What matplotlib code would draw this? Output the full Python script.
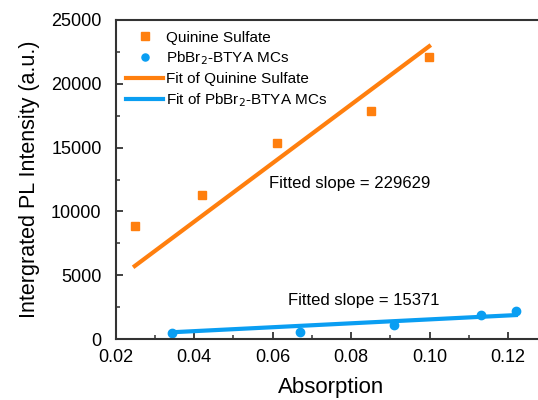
import numpy as np
import matplotlib
matplotlib.use("Agg")
import matplotlib.pyplot as plt
from matplotlib.ticker import MultipleLocator

plt.rcParams['font.family'] = ['Liberation Sans', 'DejaVu Sans']

# Data
qs_x = [0.0249, 0.0420, 0.0611, 0.0850, 0.0999]
qs_y = [8856, 11262, 15384, 17868, 22124]
pb_x = [0.0344, 0.0670, 0.0909, 0.1130, 0.1220]
pb_y = [447, 572, 1074, 1881, 2218]
qs_slope = 229629
pb_slope = 15371

orange = '#FF7F0E'
blue = '#0A9EF2'

fig = plt.figure(figsize=(5.38, 4.0), dpi=100)
ax = fig.add_axes([0.2147, 0.1525, 0.8026, 0.7975])

ax.plot(qs_x, qs_y, 's', color=orange, markersize=6, linestyle='none', label='Quinine Sulfate')
ax.plot(pb_x, pb_y, 'o', color=blue, markersize=6, linestyle='none', label='PbBr$_2$-BTYA MCs')

fx = np.array([min(qs_x), max(qs_x)])
ax.plot(fx, qs_slope * fx, '-', color=orange, linewidth=3, label='Fit of Quinine Sulfate')
fx2 = np.array([min(pb_x), max(pb_x)])
ax.plot(fx2, pb_slope * fx2, '-', color=blue, linewidth=3, label='Fit of PbBr$_2$-BTYA MCs')

ax.set_xlim(0.02, 0.13)
ax.set_ylim(0, 25000)
ax.xaxis.set_minor_locator(MultipleLocator(0.01))
ax.yaxis.set_major_locator(MultipleLocator(5000))
ax.yaxis.set_minor_locator(MultipleLocator(2500))
ax.set_xticks([0.02, 0.04, 0.06, 0.08, 0.10, 0.12])
ax.set_xticklabels(['0.02', '0.04', '0.06', '0.08', '0.10', '0.12'])

for s in ax.spines.values():
    s.set_linewidth(1.5)
    s.set_color('#333333')

ax.tick_params(axis='both', which='major', direction='in', length=5, width=1.3,
               labelsize=13, color='#333333')
ax.tick_params(axis='both', which='minor', direction='in', length=3, width=1.1, color='#333333')
ax.tick_params(axis='x', which='major', pad=7)
ax.tick_params(axis='y', which='major', pad=10)

ax.set_xlabel('Absorption', fontsize=16, labelpad=8)
ax.set_ylabel('Intergrated PL Intensity (a.u.)', fontsize=15.5, labelpad=8)

ax.text(0.0590, 12150, 'Fitted slope = %d' % qs_slope, fontsize=12, va='center', ha='left')
ax.text(0.0640, 2980, 'Fitted slope = %d' % pb_slope, fontsize=12, va='center', ha='left')

leg = ax.legend(loc='upper left', frameon=False, fontsize=11, handlelength=2.4,
                handletextpad=0.2, labelspacing=0.33, borderaxespad=0.3,
                markerscale=0.85, bbox_to_anchor=(0.0, 1.0))

fig.savefig('out.png', dpi=100)
